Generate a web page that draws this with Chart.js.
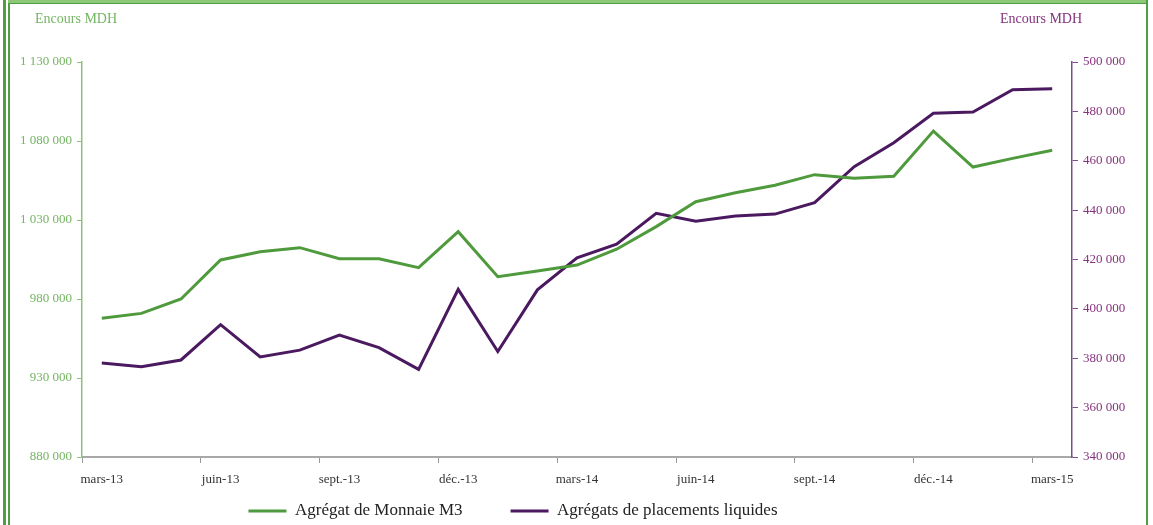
<!DOCTYPE html>
<html>
<head>
<meta charset="utf-8">
<script src="https://cdn.jsdelivr.net/npm/chart.js@4/dist/chart.umd.min.js"></script>
<style>
  body { margin: 0; background: #ffffff; }
  #wrap { position: relative; width: 1153px; height: 525px; overflow: hidden; }
  canvas { position: absolute; left: 0; top: 0; }
  .frame { position: absolute; background: #4f9f45; pointer-events: none; }
</style>
</head>
<body>
<div id="wrap">
  <canvas id="chart" width="1153" height="525"></canvas>
  <div class="frame" style="left:3px;top:0;width:3px;height:525px;"></div>
  <div class="frame" style="left:8px;top:0;width:2px;height:525px;"></div>
  <div class="frame" style="left:8px;top:0;width:1140px;height:3px;background:#8cc878;"></div>
  <div class="frame" style="left:8px;top:3px;width:1140px;height:1px;"></div>
  <div class="frame" style="left:1146px;top:0;width:2px;height:525px;"></div>
</div>
<script>
  const months = [
    "mars-13", "avr.-13", "mai-13", "juin-13", "juil.-13", "août-13",
    "sept.-13", "oct.-13", "nov.-13", "déc.-13", "janv.-14", "févr.-14",
    "mars-14", "avr.-14", "mai-14", "juin-14", "juil.-14", "août-14",
    "sept.-14", "oct.-14", "nov.-14", "déc.-14", "janv.-15", "févr.-15",
    "mars-15",
  ];
  const monnaieM3 = [
    967800, 970900, 980000, 1004700, 1009900, 1012500, 1005500, 1005500,
    999800, 1022600, 994100, 997700, 1001500, 1011500, 1025800, 1041600,
    1047300, 1052000, 1058700, 1056400, 1057700, 1086300, 1063500, 1069000,
    1074100,
  ];
  const placementsLiquides = [
    378100, 376600, 379300, 393600, 380500, 383300, 389400, 384300, 375500,
    407900, 382700, 407700, 420700, 426200, 438700, 435500, 437600, 438400,
    443000, 457600, 467300, 479200, 479700, 488800, 489200,
  ];
  const seriesNames = ["Agrégat de Monnaie M3", "Agrégats de placements liquides"];
  const axisTitle = "Encours MDH";

  const FONT = "'Liberation Serif', 'Times New Roman', serif";
  const GREEN = "#4f9a3c";
  const GREEN_LIGHT = "#74b562";
  const PURPLE = "#4b195f";
  const PURPLE_TEXT = "#86337f";
  const LEGEND_PAD = 48;
  const LEGEND_SIZE = 17;

  function fmt(v) {
    return String(v).replace(/\B(?=(\d{3})+(?!\d))/g, " ");
  }

  // axis titles at the top corners + legend placement tweak
  const extras = {
    id: "extras",
    afterLayout(chart) {
      const lg = chart.legend;
      lg.left = 0;
      lg.right = 1026;
      lg.top = 511 - LEGEND_PAD - LEGEND_SIZE / 2;
      lg.bottom = 525;
    },
    afterDraw(chart) {
      const ctx = chart.ctx;
      ctx.save();
      ctx.font = `14px ${FONT}`;
      ctx.textBaseline = "middle";
      ctx.textAlign = "left";
      ctx.fillStyle = GREEN_LIGHT;
      ctx.fillText(axisTitle, 35, 19);
      ctx.fillStyle = PURPLE_TEXT;
      ctx.fillText(axisTitle, 1000, 19);
      ctx.restore();
    },
  };

  new Chart(document.getElementById("chart"), {
    type: "line",
    data: {
      labels: months,
      datasets: [
        {
          label: seriesNames[0],
          data: monnaieM3,
          yAxisID: "y",
          borderColor: GREEN,
          backgroundColor: GREEN,
          borderWidth: 3,
          pointRadius: 0,
          tension: 0,
        },
        {
          label: seriesNames[1],
          data: placementsLiquides,
          yAxisID: "y1",
          borderColor: PURPLE,
          backgroundColor: PURPLE,
          borderWidth: 3,
          pointRadius: 0,
          tension: 0,
        },
      ],
    },
    options: {
      responsive: false,
      animation: false,
      layout: { padding: { left: 0, right: 0, top: 62, bottom: 0 } },
      plugins: {
        tooltip: { enabled: false },
        legend: {
          position: "bottom",
          maxHeight: 28,
          labels: {
            usePointStyle: true,
            pointStyle: "line",
            pointStyleWidth: 38,
            padding: LEGEND_PAD,
            color: "#222222",
            font: { family: FONT, size: LEGEND_SIZE },
          },
        },
      },
      scales: {
        x: {
          offset: true,
          afterFit: (s) => { s.height = 40; },
          grid: {
            offset: true,
            drawOnChartArea: false,
            drawTicks: true,
            tickLength: 6,
            color: (c) => (c.index % 3 === 0 ? "#999999" : "rgba(0,0,0,0)"),
          },
          border: { color: "#a8a8a8", width: 2 },
          ticks: {
            autoSkip: false,
            maxRotation: 0,
            padding: 9,
            color: "#333333",
            font: { family: FONT, size: 13 },
            callback: (v, i) => (i % 3 === 0 ? months[i] : ""),
          },
        },
        y: {
          position: "left",
          min: 880000,
          max: 1130000,
          afterFit: (s) => { s.width = 82; },
          grid: { drawOnChartArea: false, tickLength: 5, color: "#8cc47a" },
          border: { color: "#8cc47a", width: 1.5 },
          ticks: {
            stepSize: 50000,
            padding: 5,
            color: GREEN_LIGHT,
            font: { family: FONT, size: 13 },
            callback: (v) => fmt(v),
          },
        },
        y1: {
          position: "right",
          min: 340000,
          max: 500000,
          afterFit: (s) => { s.width = 81; },
          grid: { drawOnChartArea: false, tickLength: 6, color: "#7a508c" },
          border: { color: "#7a508c", width: 1.5 },
          ticks: {
            stepSize: 20000,
            padding: 5,
            color: PURPLE_TEXT,
            font: { family: FONT, size: 13 },
            callback: (v) => fmt(v),
          },
        },
      },
    },
    plugins: [extras],
  });
</script>
</body>
</html>
